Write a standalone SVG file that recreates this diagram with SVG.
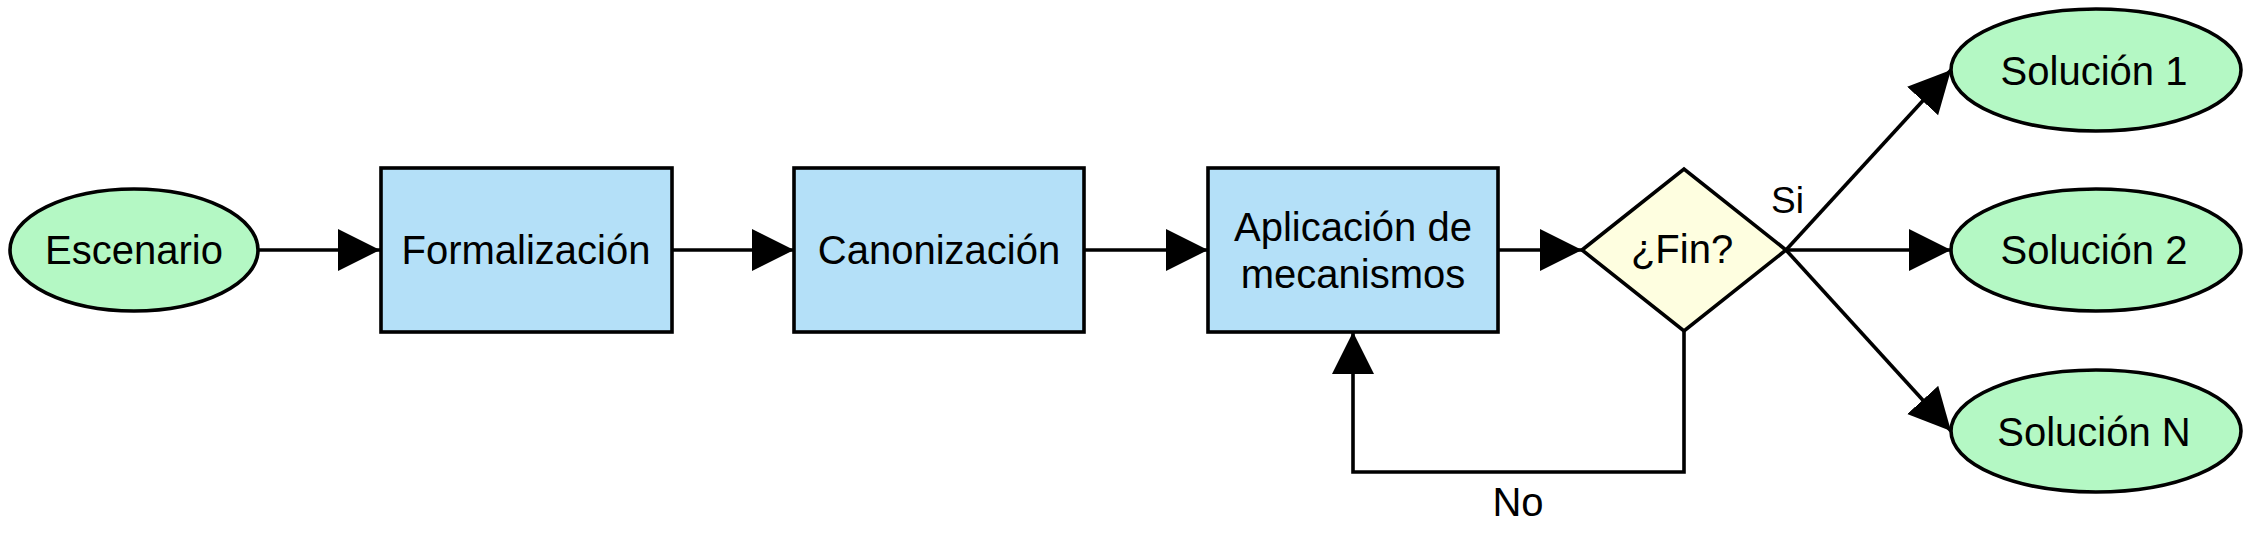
<svg xmlns="http://www.w3.org/2000/svg" width="2250" height="542" viewBox="0 0 2250 542">
<style>
  .t { font-family: "Liberation Sans", Arial, sans-serif; font-size: 40px; fill: #000; text-anchor: middle; }
  .term { fill: #b4f8c4; stroke: #000; stroke-width: 3.6; }
  .proc { fill: #b4e0f8; stroke: #000; stroke-width: 3.6; }
  .dec { fill: #fefee0; stroke: #000; stroke-width: 3.6; stroke-linejoin: miter; }
  .edge { fill: none; stroke: #000; stroke-width: 3.6; marker-end: url(#arrow); }
  .lbl { font-family: "Liberation Sans", Arial, sans-serif; font-size: 37px; fill: #000; }
</style>
<defs>
  <marker id="arrow" markerUnits="userSpaceOnUse" markerWidth="44" markerHeight="44" refX="42" refY="21" orient="auto" viewBox="0 0 44 44">
    <path d="M0,0 L42,21 L0,42 Z" fill="#000"/>
  </marker>
</defs>
<rect width="2250" height="542" fill="#fff"/>
<g id="connectors">
  <line class="edge" x1="259" y1="250" x2="380" y2="250"/>
  <line class="edge" x1="672" y1="250" x2="794" y2="250"/>
  <line class="edge" x1="1084" y1="250" x2="1208" y2="250"/>
  <line class="edge" x1="1498" y1="250" x2="1582" y2="250"/>
  <polyline class="edge" points="1684,331 1684,472 1353,472 1353,332"/>
  <line class="edge" x1="1786" y1="250" x2="1951" y2="70"/>
  <line class="edge" x1="1786" y1="250" x2="1951" y2="250"/>
  <line class="edge" x1="1786" y1="250" x2="1951" y2="431"/>
  <text class="lbl" x="1771" y="213">Si</text>
  <text class="t" x="1518" y="516">No</text>
</g>
<g id="escenario">
  <ellipse class="term" cx="134" cy="250" rx="124" ry="61"/>
  <text class="t" x="134" y="264">Escenario</text>
</g>
<g id="formalizacion">
  <rect class="proc" x="381" y="168" width="291" height="164"/>
  <text class="t" x="526" y="264">Formalización</text>
</g>
<g id="canonizacion">
  <rect class="proc" x="794" y="168" width="290" height="164"/>
  <text class="t" x="939" y="264">Canonización</text>
</g>
<g id="aplicacion">
  <rect class="proc" x="1208" y="168" width="290" height="164"/>
  <text class="t" x="1353" y="241">Aplicación de</text>
  <text class="t" x="1353" y="288">mecanismos</text>
</g>
<g id="fin">
  <polygon class="dec" points="1582,250 1684,169 1786,250 1684,331"/>
  <text class="t" x="1682" y="263">¿Fin?</text>
</g>
<g id="solucion1">
  <ellipse class="term" cx="2096" cy="70" rx="145" ry="61"/>
  <text class="t" x="2094" y="85">Solución 1</text>
</g>
<g id="solucion2">
  <ellipse class="term" cx="2096" cy="250" rx="145" ry="61"/>
  <text class="t" x="2094" y="264">Solución 2</text>
</g>
<g id="solucionN">
  <ellipse class="term" cx="2096" cy="431" rx="145" ry="61"/>
  <text class="t" x="2094" y="446">Solución N</text>
</g>
</svg>
